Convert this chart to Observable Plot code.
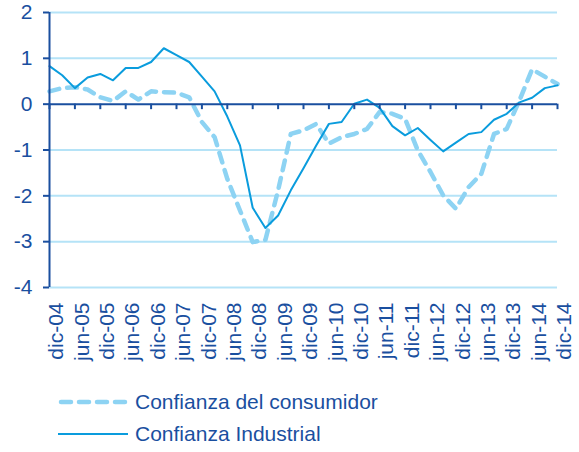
<!DOCTYPE html>
<html><head><meta charset="utf-8">
<script src="https://cdn.jsdelivr.net/npm/d3@7"></script>
<script src="https://cdn.jsdelivr.net/npm/@observablehq/plot@0.6"></script>
<style>
body{margin:0;background:#fff;}
#wrap{width:579px;height:452px;position:relative;font-family:"Liberation Sans",Arial,sans-serif;}
#chart svg{display:block;}
.legend{position:absolute;left:58px;top:386px;color:#1A4F9F;font-size:21px;}
.row{height:32px;display:flex;align-items:center;white-space:nowrap;}
.row svg{margin-right:7px;display:block;}
</style></head><body><div id="wrap"><div id="chart"></div><div class="legend" id="legend"></div></div>
<script>
// Quarterly observations, dic-04 .. dic-14 (41 quarters)
const tickLabels = ["dic-04","jun-05","dic-05","jun-06","dic-06","jun-07","dic-07","jun-08","dic-08","jun-09","dic-09","jun-10","dic-10","jun-11","dic-11","jun-12","dic-12","jun-13","dic-13","jun-14","dic-14"];
const seriesNames = ["Confianza del consumidor", "Confianza Industrial"];
const consumidor = [0.28,0.35,0.37,0.32,0.15,0.07,0.28,0.10,0.28,0.26,0.25,0.15,-0.39,-0.72,-1.63,-2.32,-3.01,-2.96,-1.88,-0.65,-0.57,-0.43,-0.86,-0.72,-0.65,-0.54,-0.17,-0.21,-0.32,-1.01,-1.48,-1.99,-2.28,-1.81,-1.52,-0.65,-0.54,0.08,0.76,0.60,0.44];
const industrial = [0.83,0.63,0.35,0.58,0.66,0.52,0.79,0.79,0.92,1.22,1.07,0.92,0.60,0.28,-0.27,-0.90,-2.26,-2.70,-2.43,-1.88,-1.40,-0.90,-0.43,-0.39,0.01,0.10,-0.08,-0.48,-0.68,-0.52,-0.78,-1.03,-0.84,-0.65,-0.61,-0.34,-0.21,0.04,0.14,0.35,0.41];
const yTicks = [2,1,0,-1,-2,-3,-4];

const axisColor = "#1A4F9F";
const gridColor = "#B5E3F7";
const consColor = "#8DD3F3";
const indColor = "#0A9CDD";

const consData = consumidor.map((v,i)=>({i, v}));
const indData = industrial.map((v,i)=>({i, v}));
const tickIdx = tickLabels.map((d,k)=>k*2);

const chart = Plot.plot({
  width: 579,
  height: 375,
  marginLeft: 49,
  marginRight: 22,
  marginTop: 12,
  marginBottom: 88,
  style: {fontFamily: '"Liberation Sans", Arial, sans-serif', fontSize: "21px", color: axisColor, background: "#fff"},
  x: {domain: [0, 40]},
  y: {domain: [-4, 2]},
  marks: [
    Plot.ruleY(yTicks.filter(d => d !== 0), {stroke: gridColor, strokeWidth: 2}),
    Plot.line(consData, {x: "i", y: "v", stroke: consColor, strokeWidth: 4.5, strokeDasharray: "10,8", strokeLinecap: "round"}),
    Plot.line(indData, {x: "i", y: "v", stroke: indColor, strokeWidth: 2}),
    Plot.ruleY([0], {stroke: axisColor, strokeWidth: 2}),
    Plot.ruleX(tickIdx, {x: d => d, y1: 0, y2: -0.12, stroke: axisColor, strokeWidth: 2}),
    Plot.ruleX([0], {y1: -4, y2: 2, stroke: axisColor, strokeWidth: 2}),
    Plot.axisY(yTicks, {anchor: "left", tickSize: 6, tickPadding: 11, stroke: axisColor, strokeWidth: 2, fill: axisColor, tickFormat: d => String(d), label: null}),
    Plot.axisX(tickIdx, {anchor: "bottom", tickSize: 0, tickPadding: 15, tickRotate: -90, tickFormat: d => tickLabels[d/2], fill: axisColor, dx: 7, label: null})
  ]
});
document.getElementById("chart").appendChild(chart);

const legend = document.getElementById("legend");
const styles = [
  {color: consColor, width: 4.5, dash: "10,8", cap: "round"},
  {color: indColor, width: 2, dash: null, cap: "butt"}
];
seriesNames.forEach((name, k) => {
  const row = document.createElement("div");
  row.className = "row";
  const s = styles[k];
  const ns = "http://www.w3.org/2000/svg";
  const svg = document.createElementNS(ns, "svg");
  svg.setAttribute("width", 70); svg.setAttribute("height", 32);
  const ln = document.createElementNS(ns, "line");
  ln.setAttribute("x1", s.cap === "round" ? 3 : 0); ln.setAttribute("x2", s.cap === "round" ? 67 : 70);
  ln.setAttribute("y1", 16); ln.setAttribute("y2", 16);
  ln.setAttribute("stroke", s.color); ln.setAttribute("stroke-width", s.width);
  ln.setAttribute("stroke-linecap", s.cap);
  if (s.dash) ln.setAttribute("stroke-dasharray", s.dash);
  svg.appendChild(ln);
  row.appendChild(svg);
  const t = document.createElement("span");
  t.textContent = name;
  row.appendChild(t);
  legend.appendChild(row);
});
</script></body></html>
